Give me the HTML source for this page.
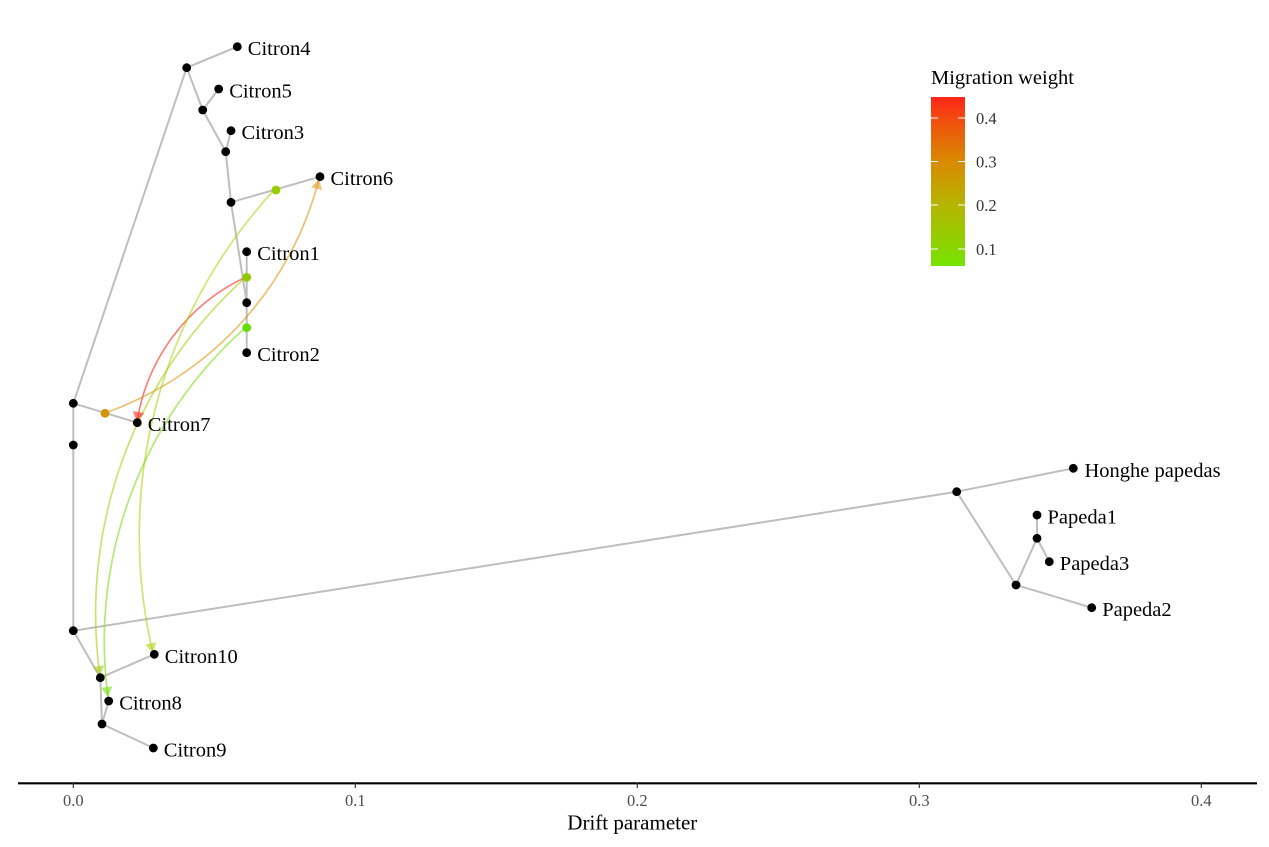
<!DOCTYPE html>
<html>
<head>
<meta charset="utf-8">
<style>
html,body{margin:0;padding:0;background:#fff;}
svg{display:block;}
text{font-family:"Liberation Serif","Times New Roman",serif;}
</style>
</head>
<body>
<svg width="1269" height="847" viewBox="0 0 1269 847" xmlns="http://www.w3.org/2000/svg">
<defs>
<linearGradient id="mg" x1="0" y1="0" x2="0" y2="1">
<stop offset="0" stop-color="#ff2418"/>
<stop offset="0.12" stop-color="#f24a10"/>
<stop offset="0.38" stop-color="#d98a00"/>
<stop offset="0.64" stop-color="#b5b500"/>
<stop offset="0.9" stop-color="#88d600"/>
<stop offset="1" stop-color="#74e400"/>
</linearGradient>
</defs>
<rect width="1269" height="847" fill="#fff"/>

<!-- tree edges -->
<g stroke="#bebebe" stroke-width="2" fill="none" stroke-linecap="round">
<line x1="73.3" y1="403.3" x2="73.3" y2="630.7"/>
<line x1="73.3" y1="403.3" x2="186.7" y2="67.7"/>
<line x1="186.7" y1="67.7" x2="237.3" y2="46.7"/>
<line x1="186.7" y1="67.7" x2="202.7" y2="110"/>
<line x1="202.7" y1="110" x2="218.7" y2="89"/>
<line x1="202.7" y1="110" x2="225.7" y2="151.7"/>
<line x1="225.7" y1="151.7" x2="231" y2="130.7"/>
<line x1="225.7" y1="151.7" x2="231" y2="202.3"/>
<line x1="231" y1="202.3" x2="320" y2="176.7"/>
<line x1="231" y1="202.3" x2="246.7" y2="302.7"/>
<line x1="246.7" y1="251.7" x2="246.7" y2="352.7"/>
<line x1="73.3" y1="403.3" x2="137.3" y2="422.7"/>
<line x1="73.3" y1="630.7" x2="956.7" y2="491.7"/>
<line x1="956.7" y1="491.7" x2="1073.3" y2="468.3"/>
<line x1="956.7" y1="491.7" x2="1016" y2="585"/>
<line x1="1016" y1="585" x2="1037" y2="538.3"/>
<line x1="1037" y1="538.3" x2="1037" y2="515"/>
<line x1="1037" y1="538.3" x2="1049.3" y2="561.7"/>
<line x1="1016" y1="585" x2="1091.7" y2="607.7"/>
<line x1="73.3" y1="630.7" x2="100.3" y2="677.7"/>
<line x1="100.3" y1="677.7" x2="154.3" y2="654.3"/>
<line x1="100.3" y1="677.7" x2="102" y2="724"/>
<line x1="102" y1="724" x2="108.7" y2="701"/>
<line x1="102" y1="724" x2="153.3" y2="748"/>
</g>

<!-- migration edges -->
<g fill="none" stroke-width="1.7">
<path d="M246,277 C187.7,304.1 146.9,358.5 137,422" stroke="#ff2a1a" stroke-opacity="0.6"/>
<path d="M105,413 C210.9,375.6 291.1,287.8 319,179" stroke="#d99000" stroke-opacity="0.55"/>
<path d="M275,189 C159.6,313.7 113.8,487.7 153,653" stroke="#a8d000" stroke-opacity="0.55"/>
<path d="M246,277 C133.9,377.3 79.1,526.9 100,676" stroke="#9ccc00" stroke-opacity="0.55"/>
<path d="M246,327 C141.2,419.6 89.4,558.4 108,697" stroke="#70dd00" stroke-opacity="0.55"/>
</g>
<g stroke="none">
<polygon points="137,422 144.3,413 132.8,411.2" fill="#ff2a1a" fill-opacity="0.6"/>
<polygon points="319,179 322.1,190.1 310.9,187.3" fill="#d99000" fill-opacity="0.5"/>
<polygon points="153,653 156.3,642 145.1,644.6" fill="#a8d000" fill-opacity="0.55"/>
<polygon points="100,676 104.3,665.3 92.9,666.9" fill="#9ccc00" fill-opacity="0.55"/>
<polygon points="108,697 112.4,686.3 100.9,687.9" fill="#70dd00" fill-opacity="0.55"/>
</g>

<!-- migration origin dots -->
<circle cx="276" cy="190" r="4.4" fill="#99cc00"/>
<circle cx="246.7" cy="277.3" r="4.4" fill="#8ccc00"/>
<circle cx="246.7" cy="327.7" r="4.4" fill="#66dd00"/>
<circle cx="105" cy="413.3" r="4.4" fill="#d29400"/>

<!-- nodes -->
<g fill="#000">
<circle cx="73.3" cy="403.3" r="4.4"/>
<circle cx="73.3" cy="445" r="4.4"/>
<circle cx="73.3" cy="630.7" r="4.4"/>
<circle cx="186.7" cy="67.7" r="4.4"/>
<circle cx="237.3" cy="46.7" r="4.4"/>
<circle cx="202.7" cy="110" r="4.4"/>
<circle cx="218.7" cy="89" r="4.4"/>
<circle cx="225.7" cy="151.7" r="4.4"/>
<circle cx="231" cy="130.7" r="4.4"/>
<circle cx="231" cy="202.3" r="4.4"/>
<circle cx="320" cy="176.7" r="4.4"/>
<circle cx="246.7" cy="251.7" r="4.4"/>
<circle cx="246.7" cy="302.7" r="4.4"/>
<circle cx="246.7" cy="352.7" r="4.4"/>
<circle cx="137.3" cy="422.7" r="4.4"/>
<circle cx="956.7" cy="491.7" r="4.4"/>
<circle cx="1073.3" cy="468.3" r="4.4"/>
<circle cx="1016" cy="585" r="4.4"/>
<circle cx="1037" cy="538.3" r="4.4"/>
<circle cx="1037" cy="515" r="4.4"/>
<circle cx="1049.3" cy="561.7" r="4.4"/>
<circle cx="1091.7" cy="607.7" r="4.4"/>
<circle cx="100.3" cy="677.7" r="4.4"/>
<circle cx="154.3" cy="654.3" r="4.4"/>
<circle cx="102" cy="724" r="4.4"/>
<circle cx="108.7" cy="701" r="4.4"/>
<circle cx="153.3" cy="748" r="4.4"/>
</g>

<!-- labels -->
<g font-size="20.5" fill="#000">
<text x="247.8" y="55.2">Citron4</text>
<text x="229.2" y="97.5">Citron5</text>
<text x="241.5" y="139.2">Citron3</text>
<text x="330.5" y="185.2">Citron6</text>
<text x="257.2" y="260.2">Citron1</text>
<text x="257.2" y="361.2">Citron2</text>
<text x="147.8" y="431.2">Citron7</text>
<text x="164.8" y="662.8">Citron10</text>
<text x="119.2" y="709.5">Citron8</text>
<text x="163.8" y="756.5">Citron9</text>
<text x="1084.5" y="476.8">Honghe papedas</text>
<text x="1047.5" y="523.5">Papeda1</text>
<text x="1059.8" y="570.2">Papeda3</text>
<text x="1102.2" y="616.2">Papeda2</text>
</g>

<!-- legend -->
<text x="931" y="84" font-size="20.5" fill="#000">Migration weight</text>
<rect x="931" y="97" width="34" height="169" fill="url(#mg)"/>
<g stroke="#fff" stroke-width="1">
<line x1="931" y1="118" x2="938" y2="118"/><line x1="958" y1="118" x2="965" y2="118"/>
<line x1="931" y1="161.5" x2="938" y2="161.5"/><line x1="958" y1="161.5" x2="965" y2="161.5"/>
<line x1="931" y1="205" x2="938" y2="205"/><line x1="958" y1="205" x2="965" y2="205"/>
<line x1="931" y1="249" x2="938" y2="249"/><line x1="958" y1="249" x2="965" y2="249"/>
</g>
<g font-size="16.5" fill="#333">
<text x="976" y="124">0.4</text>
<text x="976" y="167.5">0.3</text>
<text x="976" y="211">0.2</text>
<text x="976" y="255">0.1</text>
</g>

<!-- x axis -->
<line x1="18" y1="783.3" x2="1257" y2="783.3" stroke="#000" stroke-width="2.2"/>
<g stroke="#333" stroke-width="1.2">
<line x1="73.3" y1="783" x2="73.3" y2="788"/>
<line x1="355.3" y1="783" x2="355.3" y2="788"/>
<line x1="637.3" y1="783" x2="637.3" y2="788"/>
<line x1="919.3" y1="783" x2="919.3" y2="788"/>
<line x1="1201.3" y1="783" x2="1201.3" y2="788"/>
</g>
<g font-size="16.5" fill="#4d4d4d" text-anchor="middle">
<text x="73.3" y="806">0.0</text>
<text x="355.3" y="806">0.1</text>
<text x="637.3" y="806">0.2</text>
<text x="919.3" y="806">0.3</text>
<text x="1201.3" y="806">0.4</text>
</g>
<text x="632.3" y="829.5" font-size="21" fill="#000" text-anchor="middle">Drift parameter</text>
</svg>
</body>
</html>
